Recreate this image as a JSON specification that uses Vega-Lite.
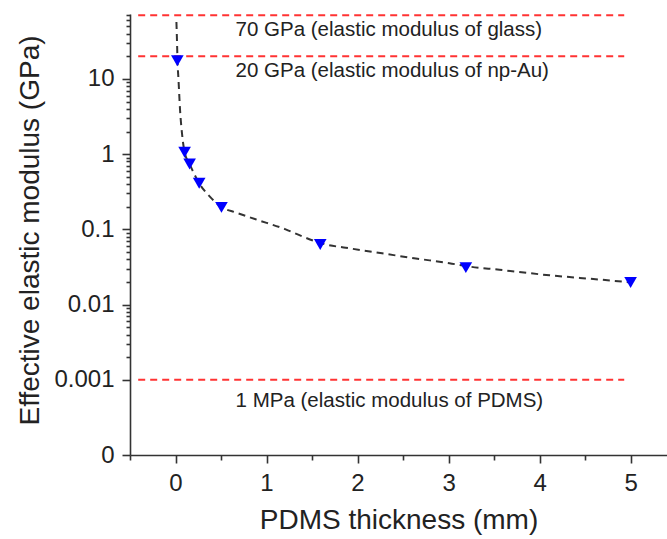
{
  "$schema": "https://vega.github.io/schema/vega-lite/v6.json",
  "autosize": "none",
  "width": 537,
  "height": 441,
  "padding": {"left": 130, "top": 14, "right": 0, "bottom": 84},
  "background": "white",
  "config": {
    "view": {"stroke": null},
    "font": "Liberation Sans",
    "axis": {
      "grid": false,
      "domainColor": "#333333",
      "domainWidth": 1.6,
      "tickColor": "#333333",
      "tickWidth": 1.6,
      "labelFont": "Liberation Sans",
      "labelFontSize": 24,
      "labelColor": "#222222",
      "titleFont": "Liberation Sans",
      "titleFontSize": 28,
      "titleFontWeight": "normal",
      "titleColor": "#222222",
      "labelOverlap": false,
      "labelFlush": false,
      "labelBound": false
    }
  },
  "datasets": {
    "refs": [
      {"x": -0.41, "x2": 4.93, "y": 70},
      {"x": -0.41, "x2": 4.93, "y": 20},
      {"x": -0.41, "x2": 4.93, "y": 0.001}
    ],
    "curve": [
      {"x": 0.01, "y": 57},
      {"x": 0.016, "y": 33},
      {"x": 0.022, "y": 17.4},
      {"x": 0.033, "y": 9.7},
      {"x": 0.05, "y": 3.86},
      {"x": 0.071, "y": 1.9},
      {"x": 0.1, "y": 1.06},
      {"x": 0.155, "y": 0.74},
      {"x": 0.26, "y": 0.41},
      {"x": 0.38, "y": 0.27},
      {"x": 0.505, "y": 0.198},
      {"x": 0.66, "y": 0.168},
      {"x": 0.88, "y": 0.136},
      {"x": 1.21, "y": 0.1},
      {"x": 1.4, "y": 0.08},
      {"x": 1.59, "y": 0.066},
      {"x": 1.95, "y": 0.055},
      {"x": 2.27, "y": 0.048},
      {"x": 2.64, "y": 0.041},
      {"x": 3.01, "y": 0.0355},
      {"x": 3.19, "y": 0.0325},
      {"x": 3.56, "y": 0.029},
      {"x": 4.11, "y": 0.0245},
      {"x": 4.66, "y": 0.0215},
      {"x": 5.0, "y": 0.0197}
    ],
    "pts": [
      {"x": 0.02, "y": 17.5},
      {"x": 0.1, "y": 1.06},
      {"x": 0.155, "y": 0.74},
      {"x": 0.26, "y": 0.41},
      {"x": 0.505, "y": 0.196},
      {"x": 1.59, "y": 0.063},
      {"x": 3.19, "y": 0.031},
      {"x": 5.0, "y": 0.0196}
    ],
    "labels": [
      {"x": 0.66, "y": 45, "text": "70 GPa (elastic modulus of glass)"},
      {"x": 0.66, "y": 12.6, "text": "20 GPa (elastic modulus of np-Au)"},
      {"x": 0.66, "y": 0.00052, "text": "1 MPa (elastic modulus of PDMS)"}
    ]
  },
  "layer": [
    {
      "data": {"name": "refs"},
      "mark": {"type": "rule", "color": "#ff3333", "strokeWidth": 2, "strokeDash": [7, 5]},
      "encoding": {
        "x": {
          "field": "x", "type": "quantitative",
          "scale": {"domain": [-0.5, 5.4], "nice": false, "zero": false},
          "axis": {
            "title": "PDMS thickness (mm)",
            "values": [-0.5, 0, 0.5, 1, 1.5, 2, 2.5, 3, 3.5, 4, 4.5, 5],
            "labelExpr": "datum.value % 1 == 0 ? toString(datum.value) : ''",
            "tickSize": {"condition": {"test": "datum.value % 1 == 0", "value": 8}, "value": 5},
            "labelPadding": 8,
            "titleX": 268.5,
            "titleY": 73,
            "titleBaseline": "alphabetic",
            "titleAlign": "center"
          }
        },
        "x2": {"field": "x2"},
        "y": {
          "field": "y", "type": "quantitative",
          "scale": {"type": "log", "domain": [0.0001, 73], "nice": false},
          "axis": {
            "title": "Effective elastic modulus (GPa)",
            "values": [0.0001, 0.001, 0.002, 0.003, 0.004, 0.005, 0.006, 0.007, 0.008, 0.009, 0.01, 0.02, 0.03, 0.04, 0.05, 0.06, 0.07, 0.08, 0.09, 0.1, 0.2, 0.3, 0.4, 0.5, 0.6, 0.7, 0.8, 0.9, 1, 2, 3, 4, 5, 6, 7, 8, 9, 10, 20, 30, 40, 50, 60, 70],
            "labelExpr": "abs(log(datum.value)/LN10 - round(log(datum.value)/LN10)) < 0.01 ? (datum.value < 0.0005 ? '0' : toString(datum.value)) : ''",
            "tickSize": {"condition": {"test": "abs(log(datum.value)/LN10 - round(log(datum.value)/LN10)) < 0.01", "value": 8}, "value": 4},
            "labelPadding": 8,
            "titleX": -100,
            "titleY": 216,
            "titleAngle": -90,
            "titleAlign": "center",
            "titleBaseline": "middle"
          }
        }
      }
    },
    {
      "data": {"name": "curve"},
      "mark": {"type": "line", "color": "#333333", "strokeWidth": 2, "strokeDash": [7, 5], "interpolate": "monotone"},
      "encoding": {
        "x": {"field": "x", "type": "quantitative"},
        "y": {"field": "y", "type": "quantitative"}
      }
    },
    {
      "data": {"name": "pts"},
      "mark": {"type": "point", "shape": "triangle-down", "filled": true, "color": "#0000ff", "opacity": 1, "size": 160},
      "encoding": {
        "x": {"field": "x", "type": "quantitative"},
        "y": {"field": "y", "type": "quantitative"}
      }
    },
    {
      "data": {"name": "labels"},
      "mark": {"type": "text", "align": "left", "baseline": "middle", "fontSize": 20.5, "color": "#222222", "font": "Liberation Sans"},
      "encoding": {
        "x": {"field": "x", "type": "quantitative"},
        "y": {"field": "y", "type": "quantitative"},
        "text": {"field": "text"}
      }
    }
  ]
}
